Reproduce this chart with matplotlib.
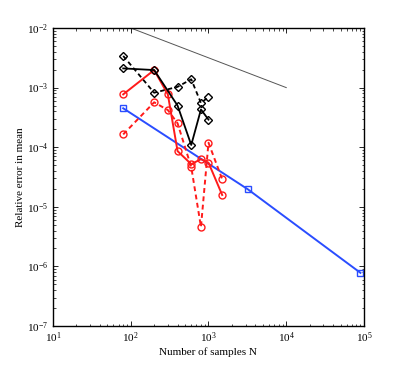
"""Relative error in mean vs number of samples (log-log)."""

import matplotlib
matplotlib.use("Agg")
import matplotlib.pyplot as plt

# reference slope line
ref_n = [1e2, 1e4]
ref_err = [1e-2, 1e-3]

# black diamonds
black_n = [80, 200, 400, 600, 800, 1000]
black_solid = [2.1e-3, 1.97e-3, 5.0e-4, 1.09e-4, 4.3e-4, 2.9e-4]
black_dashed = [3.4e-3, 8.2e-4, 1.03e-3, 1.38e-3, 5.5e-4, 7.0e-4]

# red circles
red_n = [80, 200, 300, 400, 600, 800, 1000, 1500]
red_solid = [7.7e-4, 1.97e-3, 7.7e-4, 8.6e-5, 5.2e-5, 6.3e-5, 5.5e-5, 1.58e-5]
red_dashed = [1.64e-4, 5.67e-4, 4.2e-4, 2.52e-4, 4.65e-5, 4.6e-6, 1.19e-4, 2.9e-5]

# blue squares
blue_n = [80, 3200, 90000]
blue_err = [4.5e-4, 1.97e-5, 7.8e-7]

plt.rcParams["font.family"] = ["Liberation Serif", "DejaVu Serif"]
plt.rcParams["mathtext.fontset"] = "stix"
plt.rcParams["xtick.direction"] = "in"
plt.rcParams["ytick.direction"] = "in"

fig = plt.figure(figsize=(4.02, 3.67), dpi=100)
ax = fig.add_axes([0.1318, 0.1117, 0.7737, 0.812])

dash = (0, (2.5, 1.8))
ax.plot(ref_n, ref_err, color="#555555", lw=0.7)
ax.plot(blue_n, blue_err, color="#2a4dff", lw=1.4, marker="s", ms=4,
        mfc="none", mew=1.0)
ax.plot(red_n, red_dashed, color="#ff1a1a", lw=1.4, ls=dash, marker="o",
        ms=5, mfc="none", mew=1.0)
ax.plot(red_n, red_solid, color="#ff1a1a", lw=1.4, marker="o", ms=5,
        mfc="none", mew=1.0)
ax.plot(black_n, black_dashed, color="black", lw=1.3, ls=dash, marker="D",
        ms=4, mfc="none", mew=1.0)
ax.plot(black_n, black_solid, color="black", lw=1.3, marker="D", ms=4,
        mfc="none", mew=1.0)

ax.set_xscale("log")
ax.set_yscale("log")
ax.set_xlim(1e1, 1e5)
ax.set_ylim(1e-7, 1e-2)
ax.tick_params(which="both", top=True, right=True, labelsize=8)
ax.tick_params(which="major", length=3.5, width=0.6)
ax.tick_params(which="minor", length=1.8, width=0.5)
for s in ax.spines.values():
    s.set_linewidth(1.0)

ax.set_xlabel("Number of samples N", fontsize=8, labelpad=1)
ax.set_ylabel("Relative error in mean", fontsize=8, labelpad=1)

fig.savefig("out.png", dpi=100)
